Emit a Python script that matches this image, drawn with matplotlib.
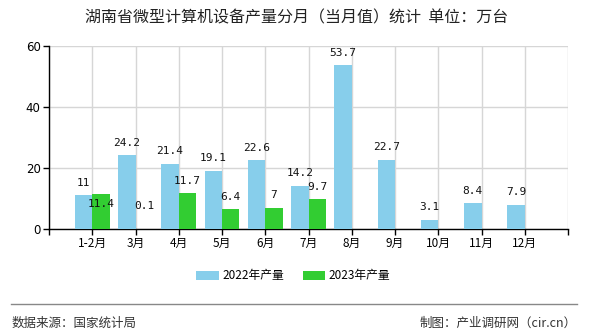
import matplotlib
matplotlib.use("Agg")
import matplotlib.pyplot as plt
import numpy as np
from matplotlib.patches import Patch
from matplotlib.lines import Line2D

plt.rcParams['font.family'] = ['Noto Sans CJK SC', 'DejaVu Sans']

categories = ["1-2月", "3月", "4月", "5月", "6月", "7月", "8月", "9月", "10月", "11月", "12月"]
values_2022 = [11, 24.2, 21.4, 19.1, 22.6, 14.2, 53.7, 22.7, 3.1, 8.4, 7.9]
values_2023 = [11.4, 0.1, 11.7, 6.4, 7, 9.7]
series_names = ["2022年产量", "2023年产量"]
y_ticks = [0, 20, 40, 60]

title = "湖南省微型计算机设备产量分月（当月值）统计  单位：万台"
source_text = "数据来源：国家统计局"
credit_text = "制图：产业调研网（cir.cn）"

c22 = "#87CEEB"
c23 = "#32CD32"

fig = plt.figure(figsize=(5.9, 3.3), dpi=100)
ax = fig.add_axes([49/590, 1 - 229/330, (568 - 49)/590, (229 - 46)/330])

n = len(categories)
x = np.arange(n)
w = 0.4
ax.bar(x - w/2, values_2022, width=w, color=c22, zorder=3)
x23 = np.arange(len(values_2023))
ax.bar(x23 + w/2, values_2023, width=w, color=c23, zorder=3)

lab_font = dict(fontsize=8, family='DejaVu Sans Mono', color='#111111')
for xi, v in zip(x, values_2022):
    ax.annotate(f"{v:g}", (xi - w/2, v), xytext=(0, 9), textcoords='offset points',
                ha='center', va='center', **lab_font)
nudge_23 = {0: -7, 1: 16}
for xi, v in zip(x23, values_2023):
    off = nudge_23.get(int(xi), 9)
    ax.annotate(f"{v:g}", (xi + w/2, v), xytext=(0, off), textcoords='offset points',
                ha='center', va='center', **lab_font)

ax.set_xlim(-1, n)
ax.set_ylim(0, 60)
ax.set_yticks(y_ticks)
ax.set_yticklabels([str(t) for t in y_ticks], fontsize=8.5, family='DejaVu Sans')
ax.set_xticks(np.arange(-1, n + 1))
ax.set_xticklabels([""] + categories + [""], fontsize=8.5)
ax.tick_params(axis='both', direction='out', length=4, width=1, color='black', pad=2)

ax.grid(True, color='#d6d6d6', linewidth=1, zorder=0)
ax.set_axisbelow(True)
for s in ['top', 'right']:
    ax.spines[s].set_visible(False)
for s in ['left', 'bottom']:
    ax.spines[s].set_color('black')
    ax.spines[s].set_linewidth(1)

fig.text(0.503, 1 - 18/330, title, ha='center', va='center', fontsize=11.5, color='#222222')

handles = [Patch(facecolor=c22, edgecolor='none'), Patch(facecolor=c23, edgecolor='none')]
fig.legend(handles, series_names, loc='center', bbox_to_anchor=(0.497, 1 - 276/330),
           ncol=2, frameon=False, fontsize=8.5, handlelength=1.9, handleheight=0.9,
           handletextpad=0.3, columnspacing=1.6)

fig.add_artist(Line2D([11/590, 577/590], [1 - 304/330, 1 - 304/330], color='#888888',
                      linewidth=1, transform=fig.transFigure))
fig.text(12/590, 1 - 323/330, source_text, ha='left', va='center', fontsize=9, color='#333333')
fig.text(577/590, 1 - 323/330, credit_text, ha='right', va='center', fontsize=9, color='#333333')

fig.savefig("out.png", dpi=100)
